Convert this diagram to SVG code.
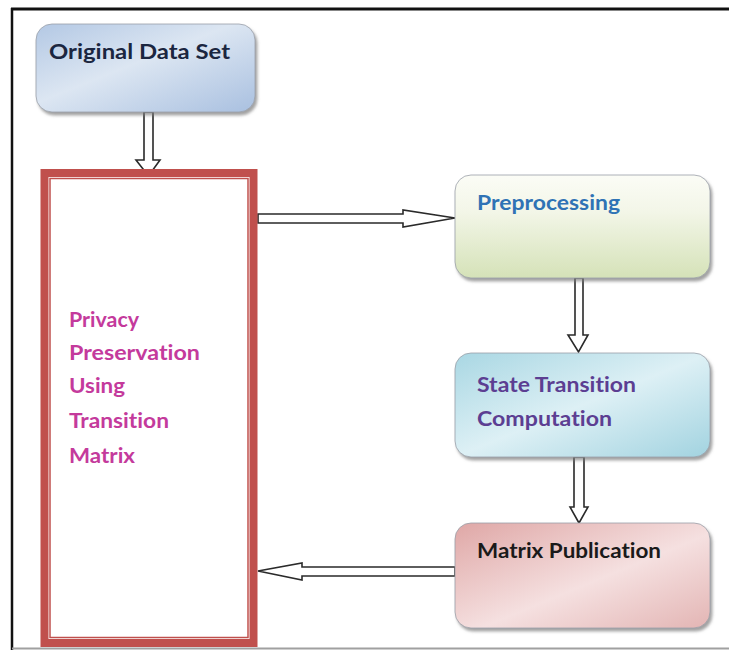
<svg xmlns="http://www.w3.org/2000/svg" width="729" height="650" viewBox="0 0 729 650">
<defs>
<linearGradient id="gBlue" x1="0" y1="0" x2="1" y2="1">
<stop offset="0" stop-color="#B3C8E4"/>
<stop offset="0.45" stop-color="#DCE6F2"/>
<stop offset="1" stop-color="#A9C0E0"/>
</linearGradient>
<linearGradient id="gGreen" x1="0" y1="0" x2="0" y2="1">
<stop offset="0" stop-color="#FBFCF6"/>
<stop offset="0.35" stop-color="#F3F6E8"/>
<stop offset="1" stop-color="#D5E2B8"/>
</linearGradient>
<linearGradient id="gCyan" x1="0" y1="0" x2="1" y2="1">
<stop offset="0" stop-color="#A9D7E3"/>
<stop offset="0.5" stop-color="#DDF0F5"/>
<stop offset="1" stop-color="#A2D3E0"/>
</linearGradient>
<linearGradient id="gRed" x1="0" y1="0" x2="1" y2="1">
<stop offset="0" stop-color="#DFA7A6"/>
<stop offset="0.55" stop-color="#F5E0E0"/>
<stop offset="1" stop-color="#E3B5B4"/>
</linearGradient>
<filter id="sh" x="-10%" y="-10%" width="125%" height="130%">
<feDropShadow dx="2" dy="3" stdDeviation="1.5" flood-color="#7a7a7a" flood-opacity="0.7"/>
</filter>
</defs>
<style>
.box{stroke:#9aa0a8;stroke-width:0.8;filter:url(#sh)}
.t{font-family:Lato,"Open Sans","Liberation Sans",sans-serif;font-weight:bold;font-size:20px;font-variant-ligatures:none;font-feature-settings:"liga" 0,"clig" 0,"dlig" 0}
.arrow{fill:#ffffff;stroke:#2a2a2a;stroke-width:1.6;stroke-linejoin:miter}
</style>
<rect x="0" y="0" width="729" height="650" fill="#ffffff"/>
<g id="frame">
<line x1="11" y1="9" x2="729" y2="9" stroke="#111" stroke-width="3"/>
<line x1="12" y1="8" x2="12" y2="650" stroke="#111" stroke-width="2.5"/>
<line x1="12" y1="648.5" x2="729" y2="648.5" stroke="#a0a0a0" stroke-width="2"/>
</g>
<g id="connectors">
<path class="arrow" d="M144,112 L153,112 L153,160 L160,160 L148.5,176 L136,160 L144,160 Z"/>
<path class="arrow" d="M258,214 L403,214 L403,210 L455,218 L403,227 L403,223 L258,223 Z"/>
<path class="arrow" d="M575,278 L583,278 L583,335 L588,335 L578.5,352 L568,335 L575,335 Z"/>
<path class="arrow" d="M574,457 L584,457 L584,507 L588,507 L579,523 L570,507 L574,507 Z"/>
<path class="arrow" d="M455,567 L302,567 L302,563 L258,571 L302,580 L302,576 L455,576 Z"/>
</g>
<g id="original">
<rect class="box" x="36" y="24" width="219" height="88" rx="16" fill="url(#gBlue)"/>
<text class="t" x="49" y="59" fill="#1B2640" textLength="181" lengthAdjust="spacingAndGlyphs">Original Data Set</text>
</g>
<g id="privacy">
<rect x="44.5" y="173" width="209" height="470" fill="#ffffff" stroke="#C0504D" stroke-width="8"/>
<rect x="50" y="178.5" width="198" height="459" fill="none" stroke="#C0504D" stroke-width="1.5"/>
<text class="t" x="69" y="327" fill="#C43A9C" textLength="70" lengthAdjust="spacingAndGlyphs">Privacy</text>
<text class="t" x="69" y="360" fill="#C43A9C" textLength="131" lengthAdjust="spacingAndGlyphs">Preservation</text>
<text class="t" x="69" y="393" fill="#C43A9C" textLength="56" lengthAdjust="spacingAndGlyphs">Using</text>
<text class="t" x="69" y="428" fill="#C43A9C" textLength="100" lengthAdjust="spacingAndGlyphs">Transition</text>
<text class="t" x="69" y="463" fill="#C43A9C" textLength="66" lengthAdjust="spacingAndGlyphs">Matrix</text>
</g>
<g id="preprocessing">
<rect class="box" x="455" y="175" width="255" height="103" rx="16" fill="url(#gGreen)"/>
<text class="t" x="477" y="210" fill="#2F73B5" textLength="143" lengthAdjust="spacingAndGlyphs">Preprocessing</text>
</g>
<g id="state">
<rect class="box" x="455" y="353" width="255" height="104" rx="16" fill="url(#gCyan)"/>
<text class="t" x="477" y="392" fill="#5C3E92" textLength="159" lengthAdjust="spacingAndGlyphs">State Transition</text>
<text class="t" x="477" y="426" fill="#5C3E92" textLength="135" lengthAdjust="spacingAndGlyphs">Computation</text>
</g>
<g id="publication">
<rect class="box" x="455" y="523" width="255" height="105" rx="16" fill="url(#gRed)"/>
<text class="t" x="477" y="558" fill="#1A1A1A" textLength="184" lengthAdjust="spacingAndGlyphs">Matrix Publication</text>
</g>
</svg>
